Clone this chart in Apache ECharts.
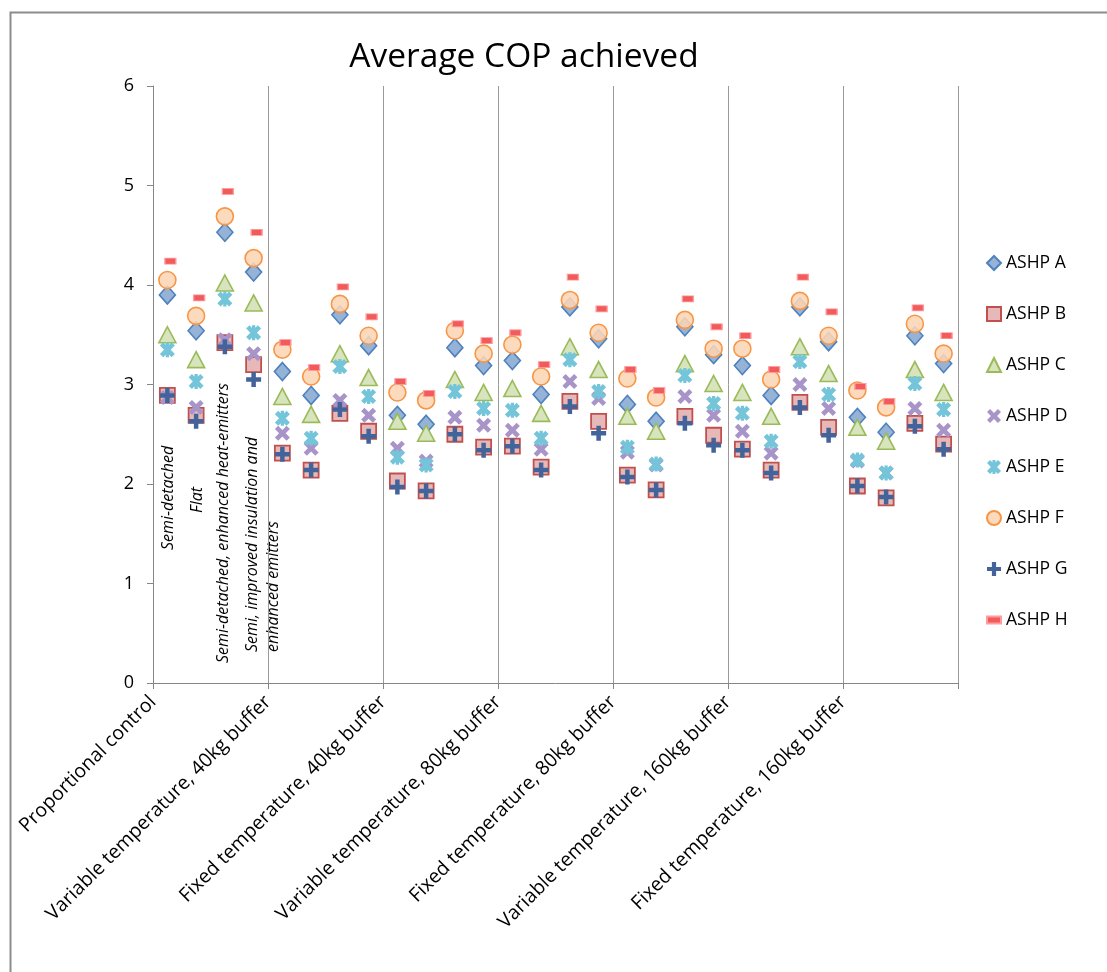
<!DOCTYPE html>
<html>
<head>
<meta charset="utf-8">
<script src="https://cdn.jsdelivr.net/npm/echarts@6/dist/echarts.min.js"></script>
<style>
  html, body { margin: 0; padding: 0; background: #fff; }
  #chart { width: 1107px; height: 972px; }
</style>
</head>
<body>
<div id="chart"></div>
<script>
const groups = [
  'Proportional control',
  'Variable temperature, 40kg buffer',
  'Fixed temperature, 40kg buffer',
  'Variable temperature, 80kg buffer',
  'Fixed temperature, 80kg buffer',
  'Variable temperature, 160kg buffer',
  'Fixed temperature, 160kg buffer',
];
const houses = ['Semi-detached', 'Flat', 'Semi-detached, enhanced heat-emitters', 'Semi, improved insulation and\nenhanced emitters'];
const seriesNames = ['ASHP A', 'ASHP B', 'ASHP C', 'ASHP D', 'ASHP E', 'ASHP F', 'ASHP G', 'ASHP H'];
const yTicks = [0, 1, 2, 3, 4, 5, 6];

// 7 control groups x 4 house types, left to right
const ashpA = [3.90, 3.54, 4.53, 4.13, 3.13, 2.89, 3.70, 3.39, 2.69, 2.60, 3.37, 3.19, 3.24, 2.90, 3.78, 3.46, 2.80, 2.63, 3.58, 3.30, 3.19, 2.89, 3.78, 3.43, 2.67, 2.52, 3.49, 3.21];
const ashpB = [2.89, 2.69, 3.42, 3.20, 2.31, 2.14, 2.71, 2.53, 2.03, 1.93, 2.50, 2.37, 2.38, 2.17, 2.83, 2.63, 2.09, 1.94, 2.68, 2.49, 2.35, 2.14, 2.82, 2.57, 1.98, 1.86, 2.61, 2.40];
const ashpC = [3.50, 3.25, 4.02, 3.82, 2.88, 2.70, 3.31, 3.07, 2.63, 2.51, 3.05, 2.92, 2.96, 2.71, 3.38, 3.15, 2.68, 2.53, 3.21, 3.01, 2.92, 2.68, 3.38, 3.11, 2.57, 2.43, 3.15, 2.92];
const ashpD = [2.87, 2.77, 3.45, 3.31, 2.51, 2.36, 2.84, 2.69, 2.36, 2.23, 2.67, 2.59, 2.54, 2.35, 3.03, 2.86, 2.32, 2.19, 2.88, 2.69, 2.53, 2.31, 3.00, 2.76, 2.23, 2.11, 2.76, 2.54];
const ashpE = [3.35, 3.03, 3.86, 3.52, 2.66, 2.46, 3.18, 2.88, 2.27, 2.19, 2.93, 2.76, 2.74, 2.46, 3.25, 2.93, 2.37, 2.20, 3.09, 2.81, 2.71, 2.43, 3.23, 2.90, 2.24, 2.11, 3.01, 2.75];
const ashpF = [4.05, 3.69, 4.69, 4.27, 3.35, 3.08, 3.81, 3.49, 2.92, 2.84, 3.54, 3.31, 3.40, 3.08, 3.85, 3.52, 3.06, 2.87, 3.65, 3.36, 3.36, 3.05, 3.84, 3.49, 2.94, 2.77, 3.61, 3.31];
const ashpG = [2.89, 2.63, 3.38, 3.05, 2.30, 2.14, 2.75, 2.48, 1.97, 1.93, 2.50, 2.34, 2.38, 2.14, 2.78, 2.51, 2.07, 1.94, 2.61, 2.39, 2.34, 2.11, 2.77, 2.49, 1.98, 1.87, 2.58, 2.35];
const ashpH = [4.24, 3.87, 4.94, 4.53, 3.42, 3.17, 3.98, 3.68, 3.03, 2.91, 3.61, 3.44, 3.52, 3.20, 4.08, 3.76, 3.15, 2.94, 3.86, 3.58, 3.49, 3.15, 4.08, 3.73, 2.98, 2.83, 3.77, 3.49];
const allValues = [ashpA, ashpB, ashpC, ashpD, ashpE, ashpF, ashpG, ashpH];

const FONT = '"Open Sans", Lato, sans-serif';
const perGroup = houses.length;
const totalSlots = groups.length * perGroup;

const xShape = 'path://M0,2.2 L2.2,0 L5,2.8 L7.8,0 L10,2.2 L7.2,5 L10,7.8 L7.8,10 L5,7.2 L2.2,10 L0,7.8 L2.8,5 Z';
const starShape = xShape + ' M3.9,0 L6.1,0 L6.1,10 L3.9,10 Z';
const plusShape = 'path://M3.5,0 L6.5,0 L6.5,3.5 L10,3.5 L10,6.5 L6.5,6.5 L6.5,10 L3.5,10 L3.5,6.5 L0,6.5 L0,3.5 L3.5,3.5 Z';
const dashShape = 'path://M0,0 L10,0 L10,5 L0,5 Z';

const markers = [
  { symbol: 'diamond', size: [16, 18], style: { color: '#95b3d7', borderColor: '#4f81bd', borderWidth: 1.6 } },
  { symbol: 'rect', size: 15, style: { color: '#e6b9b8', borderColor: '#c0504d', borderWidth: 1.8 } },
  { symbol: 'triangle', size: [17, 16], style: { color: '#d7e4bd', borderColor: '#9bbb59', borderWidth: 1.6 } },
  { symbol: xShape, size: 15, style: { color: '#a894c8' } },
  { symbol: starShape, size: 15, style: { color: '#74c5d9' } },
  { symbol: 'circle', size: 17, style: { color: 'rgba(252, 213, 181, 0.88)', borderColor: '#f79646', borderWidth: 1.6 } },
  { symbol: plusShape, size: 15, style: { color: '#42649b' } },
  { symbol: dashShape, size: [11, 6], offset: [3, 0], style: { color: '#f25b5b', borderColor: '#ff9c9c', borderWidth: 1 } },
];

const chart = echarts.init(document.getElementById('chart'));

chart.setOption({
  backgroundColor: '#fff',
  animation: false,
  textStyle: { fontFamily: FONT },
  title: {
    text: 'Average COP achieved',
    left: 519,
    top: 35,
    textAlign: 'center',
    textStyle: { fontFamily: FONT, fontSize: 33.5, fontWeight: 'normal', color: '#000' },
  },
  legend: {
    orient: 'vertical',
    left: 981,
    top: 249,
    itemGap: 33,
    itemWidth: 14,
    itemHeight: 14,
    textStyle: { fontFamily: FONT, fontSize: 17.5, color: '#000' },
    data: seriesNames,
  },
  grid: { left: 153, right: 149, top: 86, bottom: 289 },
  xAxis: {
    type: 'value',
    min: 0,
    max: totalSlots,
    interval: perGroup,
    axisLine: { show: true, lineStyle: { color: '#868686', width: 1 } },
    axisTick: { show: true, length: 6, lineStyle: { color: '#868686' } },
    splitLine: { show: true, lineStyle: { color: '#9a9a9a', width: 1 } },
    axisLabel: {
      rotate: 45,
      margin: 16,
      fontFamily: FONT,
      fontSize: 19.5,
      color: '#000',
      formatter: (v) => groups[Math.round(v / perGroup)] || '',
    },
  },
  yAxis: {
    type: 'value',
    min: yTicks[0],
    max: yTicks[yTicks.length - 1],
    interval: 1,
    axisLine: { show: true, lineStyle: { color: '#868686', width: 1 } },
    axisTick: { show: true, length: 6, lineStyle: { color: '#868686' } },
    splitLine: { show: false },
    axisLabel: { fontFamily: FONT, fontSize: 18, color: '#000', margin: 19 },
  },
  graphic: [
    {
      type: 'rect',
      silent: true,
      shape: { x: 10.5, y: 12.5, width: 1200, height: 1100 },
      style: { fill: 'none', stroke: '#8c8c8c', lineWidth: 2 },
    },
    ...[
      { text: houses[0], x: 168, y: 550 },
      { text: houses[1], x: 197, y: 513 },
      { text: houses[2], x: 223, y: 663 },
      { text: houses[3].split('\n')[0], x: 252, y: 652 },
      { text: houses[3].split('\n')[1], x: 273, y: 652 },
    ].map((t) => ({
      type: 'text',
      silent: true,
      x: t.x,
      y: t.y,
      rotation: Math.PI / 2,
      style: {
        text: t.text,
        x: 0,
        y: 0,
        font: 'italic 16px ' + FONT,
        fill: '#000',
        align: 'left',
        verticalAlign: 'middle',
        textAlign: 'left',
        textVerticalAlign: 'middle',
      },
    })),
  ],
  series: seriesNames.map((name, s) => ({
    name,
    type: 'scatter',
    symbol: markers[s].symbol,
    symbolSize: markers[s].size,
    symbolOffset: markers[s].offset || [0, 0],
    itemStyle: { ...markers[s].style, opacity: 1 },
    emphasis: { disabled: true },
    data: allValues[s].map((v, i) => [i + 0.5, v]),
  })),
});

window.addEventListener('resize', () => chart.resize());
</script>
</body>
</html>
